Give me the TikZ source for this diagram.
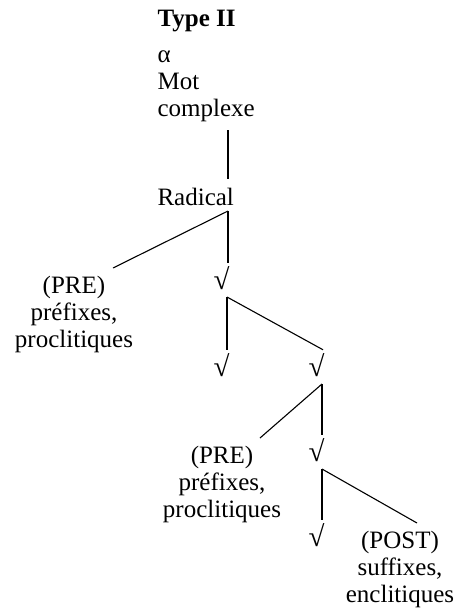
\documentclass[tikz,border=0pt]{standalone}
\usepackage{fontspec}
\setmainfont{Liberation Serif}
\begin{document}
\begin{tikzpicture}[
  x=1pt, y=-1pt,
  font=\fontsize{25}{27}\selectfont,
  line width=1.1pt,
  txt/.style={inner sep=8pt},
  lbl/.style={txt, align=center, anchor=north},
  rt/.style={font=\fontsize{29}{30}\selectfont, inner xsep=0pt, inner ysep=3pt, anchor=south east}
]
\useasboundingbox (0,0) rectangle (460,611);
% upper part
\node[txt, anchor=base west] (title) at (149,26) {\bfseries Type II};
\node[txt, anchor=south west, align=left] (mot) at (149,130) {α\\Mot\\complexe};
\node[txt, anchor=base west] (rad) at (149,205) {Radical};
\node[lbl] (pre1) at (74,268) {(PRE)\\préfixes,\\proclitiques};
\node[rt] (v1) at (230,293) {√};
\coordinate (j0) at ([xshift=-2pt,yshift=-6pt]rad.base -| v1.east);
\coordinate (j1) at ([xshift=-3pt,yshift=-4pt]v1.south east);
% lower part
\node[rt] (v2) at (230,380) {√};
\node[rt] (v3) at (325,380) {√};
\coordinate (j3) at ([xshift=-3pt,yshift=-4pt]v3.south east);
\node[lbl] (pre2) at (222,438) {(PRE)\\préfixes,\\proclitiques};
\node[rt] (v4) at (325,465) {√};
\coordinate (j4) at ([xshift=-3pt,yshift=-4pt]v4.south east);
\node[rt] (v5) at (325,550) {√};
\node[lbl] (post) at (400,523) {(POST)\\suffixes,\\enclitiques};
% branches
\draw (j0 |- mot.south) -- (j0 |- rad.north);
\draw (j0) -- ([xshift=39pt]pre1.north);
\draw (j0) -- (j0 |- v1.north);
\draw (j1) -- (j1 |- v2.north);
\draw (j1) -- ([xshift=-2pt]v3.north east);
\draw (j3) -- ([xshift=38pt]pre2.north);
\draw (j3) -- (j3 |- v4.north);
\draw (j4) -- (j4 |- v5.north);
\draw (j4) -- ([xshift=17pt]post.north);
\end{tikzpicture}
\end{document}
